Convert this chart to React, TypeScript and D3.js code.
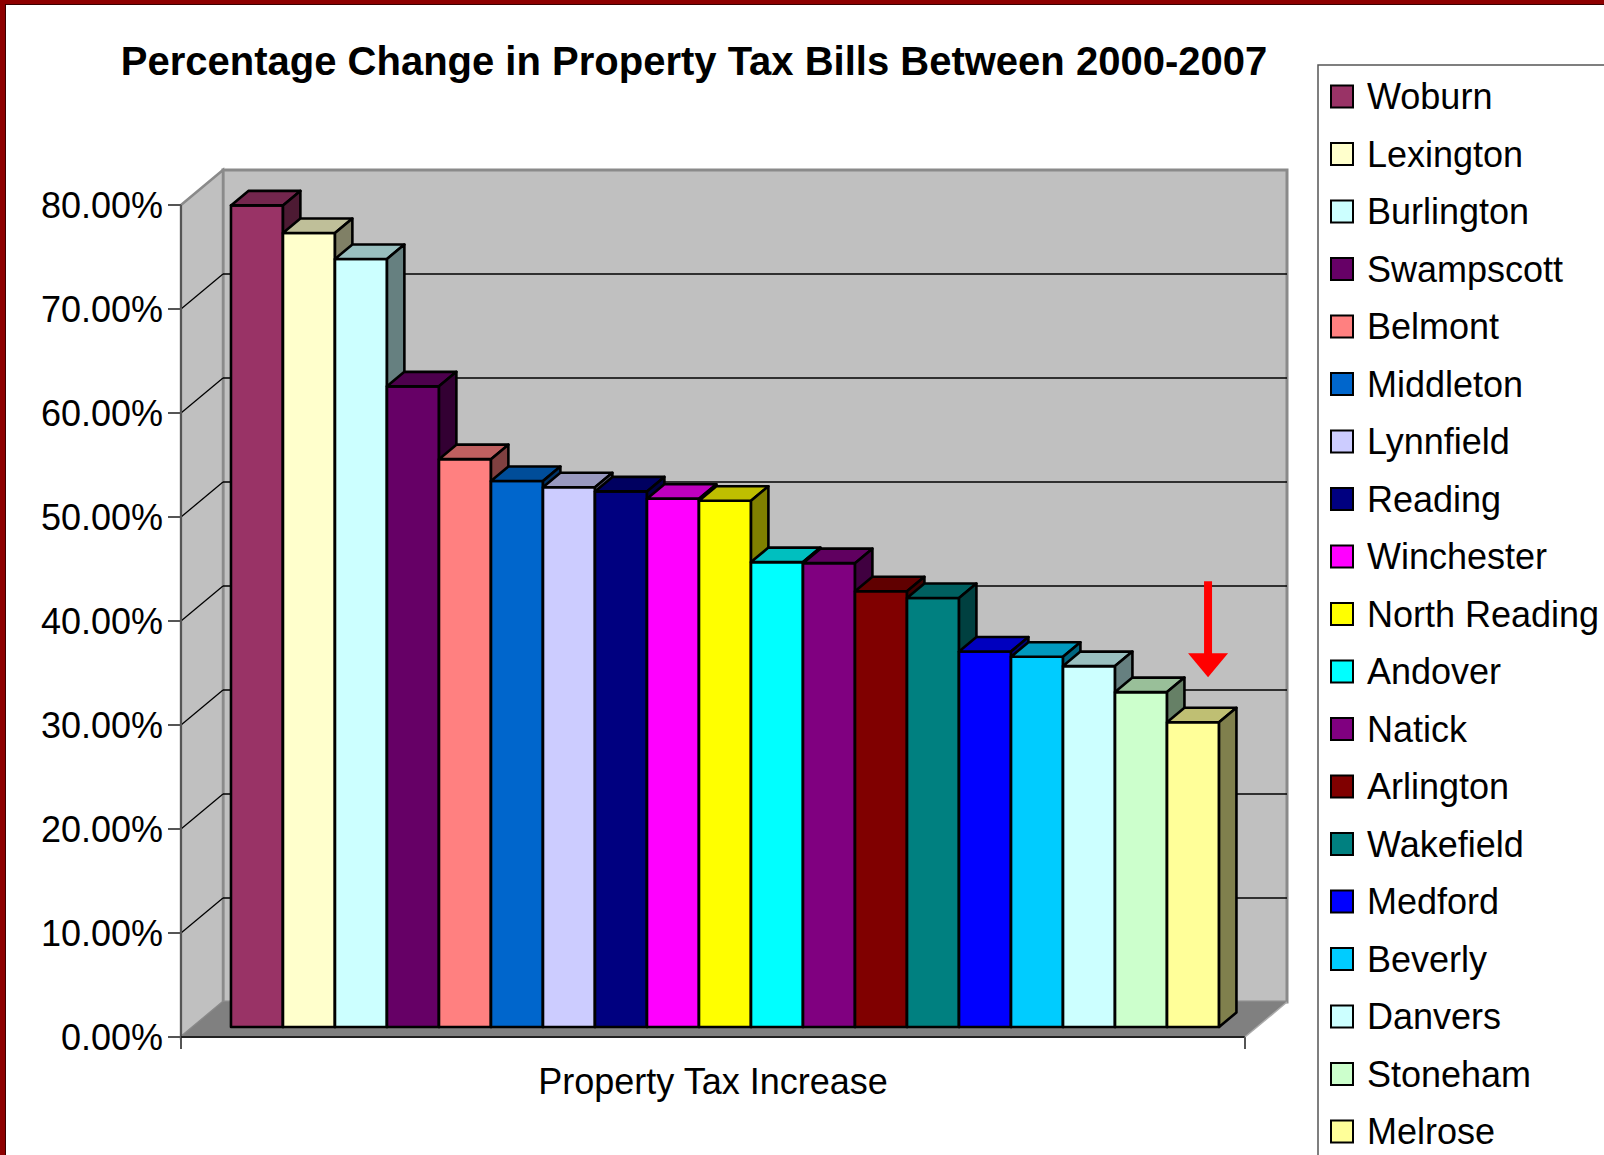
import React, { useEffect } from 'react';
import * as d3 from 'd3';

// towns, in the order they are drawn (and listed in the legend)
const towns = [
  'Woburn', 'Lexington', 'Burlington', 'Swampscott', 'Belmont', 'Middleton',
  'Lynnfield', 'Reading', 'Winchester', 'North Reading', 'Andover', 'Natick',
  'Arlington', 'Wakefield', 'Medford', 'Beverly', 'Danvers', 'Stoneham', 'Melrose',
];

// percentage change 2000-2007
const increases = [
  79.0, 76.35, 73.85, 61.6, 54.6, 52.5, 51.9, 51.5, 50.8, 50.6,
  44.7, 44.6, 41.9, 41.25, 36.1, 35.6, 34.7, 32.2, 29.3,
];

const colors = [
  '#993366', '#ffffcc', '#ccffff', '#660066', '#ff8080', '#0066cc', '#ccccff',
  '#000080', '#ff00ff', '#ffff00', '#00ffff', '#800080', '#800000', '#008080',
  '#0000ff', '#00ccff', '#ccffff', '#ccffcc', '#ffff99',
];

const yTicks = [0, 10, 20, 30, 40, 50, 60, 70, 80];

const W = 1604;
const H = 1155;
const FONT = '"Liberation Sans", Arial, sans-serif';

// floor/wall depth in pixels
const DX = 42;
const DY = -35;
// bar depth span (fraction of floor depth)
const T_FRONT = 0.286;
const T_BACK = 0.7;

const shade = (c: string, k: number) => {
  const r = d3.rgb(c);
  return d3.rgb(r.r * k, r.g * k, r.b * k).formatHex();
};

const pts = (list: [number, number, number][]) =>
  list.map(([x, y, t]) => `${x + DX * t},${y + DY * t}`).join(' ');

const App: React.FC = () => {
  useEffect(() => {
    document.body.style.margin = '0';
  }, []);

  const x0 = 181;
  const x1 = 1245;
  const yScale = d3.scaleLinear().domain([0, 80]).range([1037, 205]);
  const xBand = d3.scaleBand<string>()
    .domain(towns)
    .range([x0, x1])
    .paddingInner(0)
    .paddingOuter(0.73);
  const bw = xBand.bandwidth();
  const yb = yScale(0);
  const yTop = yScale(80);

  const legendX = 1318;
  const legendY = 65;
  const rowH = 57.5;

  // arrow points at the last bar (Melrose)
  const lastX = xBand(towns[towns.length - 1])! + DX * T_FRONT;
  const lastTop = yScale(increases[increases.length - 1]) + DY * T_FRONT;
  const arrowCx = lastX + bw / 2 + 15;
  const tipY = lastTop - 45;

  return (
    <svg width={W} height={H} style={{ display: 'block' }} fontFamily={FONT}>
      <rect x={0} y={0} width={W} height={H} fill="#ffffff" />
      {/* frame */}
      <rect x={0} y={0} width={W} height={4} fill="#8e0000" />
      <rect x={0} y={0} width={5} height={H} fill="#8e0000" />
      <line x1={5} y1={4.5} x2={W} y2={4.5} stroke="#3a0000" strokeWidth={1} />
      <line x1={5.5} y1={4} x2={5.5} y2={H} stroke="#3a0000" strokeWidth={1} />

      <text x={694} y={75} textAnchor="middle" fontSize={40} fontWeight="bold" fill="#000">
        Percentage Change in Property Tax Bills Between 2000-2007
      </text>

      {/* walls and floor */}
      <polygon
        points={pts([[x0, yTop, 1], [x1, yTop, 1], [x1, yb, 1], [x0, yb, 1]])}
        fill="#c0c0c0" stroke="#8a8a8a" strokeWidth={3}
      />
      <polygon
        points={pts([[x0, yTop, 0], [x0, yTop, 1], [x0, yb, 1], [x0, yb, 0]])}
        fill="#c0c0c0" stroke="#8a8a8a" strokeWidth={2.5}
      />
      <polygon
        points={pts([[x0, yb, 0], [x0, yb, 1], [x1, yb, 1], [x1, yb, 0]])}
        fill="#808080"
      />

      {/* gridlines */}
      {yTicks.filter(v => v > 0 && v < 80).map(v => (
        <g key={v}>
          <line x1={x0 + DX} y1={yScale(v) + DY} x2={x1 + DX} y2={yScale(v) + DY} stroke="#000" strokeWidth={1.3} />
          <line x1={x0} y1={yScale(v)} x2={x0 + DX} y2={yScale(v) + DY} stroke="#000" strokeWidth={1.3} />
        </g>
      ))}

      {/* axes */}
      <line x1={x0} y1={yTop} x2={x0} y2={yb + 12} stroke="#555" strokeWidth={2} />
      <line x1={x0} y1={yb} x2={x1} y2={yb} stroke="#222" strokeWidth={2} />
      <line x1={x1} y1={yb} x2={x1} y2={yb + 12} stroke="#555" strokeWidth={2} />
      <line x1={x1} y1={yb} x2={x1 + DX} y2={yb + DY} stroke="#aaa" strokeWidth={1.5} />
      {yTicks.map(v => (
        <g key={v}>
          <line x1={x0 - 13} y1={yScale(v)} x2={x0} y2={yScale(v)} stroke="#555" strokeWidth={2} />
          <text x={163} y={yScale(v) + 13} textAnchor="end" fontSize={36} fill="#000">
            {v.toFixed(2)}%
          </text>
        </g>
      ))}

      {/* bars */}
      {towns.map((t, i) => {
        const xl = xBand(t)!;
        const xr = xl + bw;
        const yt = yScale(increases[i]);
        const c = colors[i];
        return (
          <g key={t} stroke="#000" strokeWidth={2.6} strokeLinejoin="round">
            <polygon points={pts([[xl, yb, T_FRONT], [xr, yb, T_FRONT], [xr, yt, T_FRONT], [xl, yt, T_FRONT]])} fill={c} />
            <polygon points={pts([[xl, yt, T_FRONT], [xr, yt, T_FRONT], [xr, yt, T_BACK], [xl, yt, T_BACK]])} fill={shade(c, 0.75)} />
            <polygon points={pts([[xr, yb, T_FRONT], [xr, yb, T_BACK], [xr, yt, T_BACK], [xr, yt, T_FRONT]])} fill={shade(c, 0.5)} />
          </g>
        );
      })}

      {/* red arrow */}
      <rect x={arrowCx - 4} y={tipY - 96} width={8} height={73} fill="#ff0000" />
      <polygon
        points={`${arrowCx - 20},${tipY - 24} ${arrowCx + 20},${tipY - 24} ${arrowCx},${tipY}`}
        fill="#ff0000"
      />

      <text x={(x0 + x1) / 2} y={1094} textAnchor="middle" fontSize={36} fill="#000">
        Property Tax Increase
      </text>

      {/* legend */}
      <rect x={legendX} y={legendY} width={400} height={1200} fill="#fff" stroke="#555" strokeWidth={1.5} />
      {towns.map((t, i) => {
        const cy = 96.5 + i * rowH;
        return (
          <g key={t}>
            <rect x={1331} y={cy - 11} width={22} height={22} fill={colors[i]} stroke="#000" strokeWidth={2} />
            <text x={1367} y={cy + 12.5} fontSize={36} fill="#000">{t}</text>
          </g>
        );
      })}
    </svg>
  );
};

export default App;
